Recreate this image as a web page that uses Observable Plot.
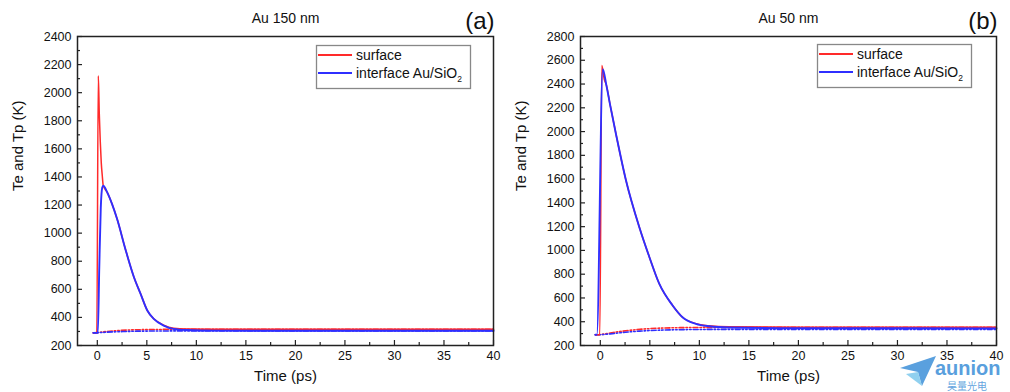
<!DOCTYPE html>
<html><head><meta charset="utf-8">
<script src="https://cdn.jsdelivr.net/npm/d3@7"></script>
<script src="https://cdn.jsdelivr.net/npm/@observablehq/plot@0.6"></script>
<style>
body{margin:0;background:#fff;font-family:"Liberation Sans",Arial,sans-serif;}
#wrap{position:relative;width:1010px;height:392px;display:flex;overflow:hidden;}
#wrap svg{display:block;}
.wm{position:absolute;color:#3d8fd8;font-family:"Liberation Sans",Arial,sans-serif;line-height:1;}
</style></head><body><div id="wrap"></div>
<script>
// ---------- Panel (a): Au 150 nm ----------
const titleA = "Au 150 nm";
const tagA = "(a)";
const yTicksA = [200,400,600,800,1000,1200,1400,1600,1800,2000,2200,2400];
const surfTeA_t = [-0.4,-0.05,0.1,0.2,0.3,0.4,0.5,0.6,1.0,1.5,2.0,2.86,3.7,4.37,5.05,5.7,6.7,7.7,9,12,20,40];
const surfTeA_v = [290,290,2120,1850,1650,1500,1410,1338,1290,1205,1100,880,686,568,449,390,345,323,317,316,315,315];
const intTeA_t = [-0.4,0.05,0.2,0.35,0.5,0.6,1.0,1.5,2.0,2.86,3.7,4.37,5.05,5.7,6.7,7.7,9,12,20,40];
const intTeA_v = [290,290,760,1180,1325,1338,1290,1205,1100,880,686,568,449,390,342,318,310,306,305,305];
const surfTpA_t = [-0.4,0,1,2,3,4,6,8,12,20,40];
const surfTpA_v = [290,292,300,306,310,312,314,315,315,315,315];
const intTpA_t = [-0.4,0,1,2,3,4,6,8,12,20,40];
const intTpA_v = [290,291,295,298,300,302,303,304,304,304,304];

// ---------- Panel (b): Au 50 nm ----------
const titleB = "Au 50 nm";
const tagB = "(b)";
const yTicksB = [200,400,600,800,1000,1200,1400,1600,1800,2000,2200,2400,2600,2800];
const surfTeB_t = [-0.5,-0.05,0.15,0.4,0.6,1.0,1.58,2.59,3.94,4.95,5.95,7.3,8.3,9.65,11,13,20,40];
const surfTeB_v = [290,290,2555,2440,2395,2220,1980,1590,1195,945,720,537,438,384,366,358,354,353];
const intTeB_t = [-0.5,-0.35,0.25,0.6,1.0,1.58,2.59,3.94,4.95,5.95,7.3,8.3,9.65,11,13,20,40];
const intTeB_v = [290,290,2525,2395,2220,1980,1590,1195,945,720,537,438,382,362,352,346,344];
const surfTpB_t = [-0.5,0,1,2,3,4,5,6,8,10,15,40];
const surfTpB_v = [290,292,305,318,328,336,342,346,350,352,353,353];
const intTpB_t = [-0.5,0,1,2,3,4,5,6,8,10,15,40];
const intTpB_v = [290,291,298,307,315,321,326,329,333,335,336,336];

// ---------- shared ----------
const xTicks = [0,5,10,15,20,25,30,35,40];
const xMinor = [2.5,7.5,12.5,17.5,22.5,27.5,32.5,37.5];
const xLabel = "Time (ps)";
const yLabel = "Te and Tp (K)";
const seriesNames = ["surface", "interface Au/SiO"];
const RED = "#ff2a2a", BLUE = "#2f2fff";

const pts = (t, v) => t.map((d, i) => ({t: d, v: v[i]}));

function panel(cfg) {
  const W = 505, H = 392;
  const fw = W - cfg.ml - cfg.mr, fh = H - cfg.mt - cfg.mb;
  const yMin = cfg.yTicks[0], yMax = cfg.yTicks[cfg.yTicks.length - 1];
  const yMinor = d3.range(yMin + 100, yMax, 200);
  const dash = "5,2,1.5,2,1.5,2";
  const curve = "monotone-x";
  const plot = Plot.plot({
    width: W, height: H,
    marginLeft: cfg.ml, marginRight: cfg.mr, marginTop: cfg.mt, marginBottom: cfg.mb,
    style: {fontFamily: '"Liberation Sans", Arial, sans-serif', fontSize: "12px", background: "#fff", color: "#111"},
    x: {domain: [-2, 40]},
    y: {domain: [yMin, yMax]},
    marks: [
      Plot.axisX(xTicks, {tickSize: 0, tickPadding: 6, fontSize: 12.5, label: null, tickFormat: d => String(d)}),
      Plot.axisY(cfg.yTicks, {tickSize: 0, tickPadding: 6, fontSize: 12.5, label: null, tickFormat: d => String(d)}),
      Plot.tickX(xTicks, {x: d => d, insetTop: fh - 5, stroke: "#222", strokeWidth: 1.2}),
      Plot.tickX(xMinor, {x: d => d, insetTop: fh - 3, stroke: "#222", strokeWidth: 1.2}),
      Plot.tickY(cfg.yTicks, {y: d => d, insetRight: fw - 5, stroke: "#222", strokeWidth: 1.2}),
      Plot.tickY(yMinor, {y: d => d, insetRight: fw - 3, stroke: "#222", strokeWidth: 1.2}),
      Plot.line(pts(cfg.surfTp[0], cfg.surfTp[1]), {x: "t", y: "v", stroke: RED, strokeWidth: 1.6, strokeDasharray: dash, curve}),
      Plot.line(pts(cfg.intTp[0], cfg.intTp[1]), {x: "t", y: "v", stroke: BLUE, strokeWidth: 1.6, strokeDasharray: dash, curve}),
      Plot.line(pts(cfg.surfTe[0], cfg.surfTe[1]), {x: "t", y: "v", stroke: RED, strokeWidth: 1.5, curve}),
      Plot.line(pts(cfg.intTe[0], cfg.intTe[1]), {x: "t", y: "v", stroke: BLUE, strokeWidth: 1.9, curve}),
      Plot.frame({stroke: "#222", strokeWidth: 1.5}),
      Plot.text([cfg.title], {frameAnchor: "top", dy: -23, fontSize: 14, fill: "#111"}),
      Plot.text([cfg.tag], {frameAnchor: "top-right", textAnchor: "end", dx: 1, dy: -25, fontSize: 24, fill: "#111"}),
      Plot.text([xLabel], {frameAnchor: "bottom", dy: 35, fontSize: 15, fill: "#111"}),
      Plot.text([yLabel], {frameAnchor: "left", rotate: -90, dx: -59, fontSize: 15, fill: "#111"})
    ]
  });
  // legend box
  const svg = d3.select(plot);
  const g = svg.append("g").attr("transform", `translate(${cfg.lx},${cfg.ly})`).attr("text-anchor", "start");
  g.append("rect").attr("x", 0.5).attr("y", 0.5).attr("width", 154).attr("height", 43)
    .attr("fill", "#fff").attr("stroke", "#888").attr("stroke-width", 1.3);
  const rows = [{c: RED, y: 10}, {c: BLUE, y: 28}];
  rows.forEach((r, i) => {
    g.append("line").attr("x1", 2).attr("x2", 36).attr("y1", r.y).attr("y2", r.y)
      .attr("stroke", r.c).attr("stroke-width", 2);
    const t = g.append("text").attr("x", 40).attr("y", r.y + 5).attr("text-anchor", "start")
      .attr("font-size", 14).attr("fill", "#111").text(seriesNames[i]);
    if (i === 1) t.append("tspan").attr("font-size", 8.5).attr("dy", 4).text("2");
  });
  return plot;
}

const wrap = document.getElementById("wrap");
wrap.appendChild(panel({
  ml: 77, mr: 12, mt: 36, mb: 47, yTicks: yTicksA, title: titleA, tag: tagA,
  surfTe: [surfTeA_t, surfTeA_v], intTe: [intTeA_t, intTeA_v],
  surfTp: [surfTpA_t, surfTpA_v], intTp: [intTpA_t, intTpA_v],
  lx: 316, ly: 45
}));
wrap.appendChild(panel({
  ml: 75, mr: 14, mt: 36, mb: 47, yTicks: yTicksB, title: titleB, tag: tagB,
  surfTe: [surfTeB_t, surfTeB_v], intTe: [intTeB_t, intTeB_v],
  surfTp: [surfTpB_t, surfTpB_v], intTp: [intTpB_t, intTpB_v],
  lx: 312, ly: 44
}));
// watermark logo
const ns = "http://www.w3.org/2000/svg";
const logo = document.createElementNS(ns, "svg");
logo.setAttribute("width", 40); logo.setAttribute("height", 34);
logo.style.cssText = "position:absolute;left:898px;top:354px;";
logo.innerHTML = '<polygon points="2,14 38,2 24,32 20,18" fill="#3d8fd8" opacity="0.85"/><polygon points="8,20 20,18 24,32" fill="#7cc8ec" opacity="0.85"/>';
wrap.appendChild(logo);
const wm1 = document.createElement("div");
wm1.className = "wm"; wm1.style.cssText += "left:935px;top:358px;font-size:20px;font-weight:bold;opacity:0.85;";
wm1.textContent = "aunion";
const wm2 = document.createElement("div");
wm2.className = "wm"; wm2.style.cssText += "left:947px;top:381px;font-size:10px;font-family:'Noto Sans CJK SC';opacity:0.8;";
wm2.textContent = "昊量光电";
wrap.appendChild(wm1); wrap.appendChild(wm2);
</script>
</body></html>
